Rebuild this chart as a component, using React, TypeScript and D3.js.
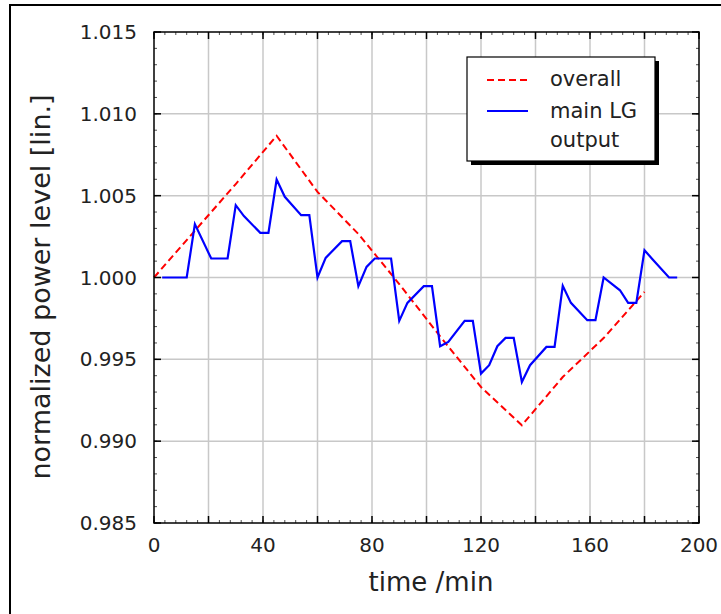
import React from 'react'
import * as d3 from 'd3'

// overall power level, sampled every 15 min
const overallTime = [0, 15, 30, 45, 60, 75, 90, 105, 120, 135, 150, 165, 180]
const overallLevel = [1.0, 1.00286, 1.00571, 1.00866, 1.00523, 1.00266, 0.9996, 0.9964, 0.99331, 0.99097, 0.99392, 0.9963, 0.99912]

// main LG output
const lgTime = [3, 12, 15, 21, 27, 30, 33, 39, 42, 45, 48, 54, 57, 60, 63, 69, 72, 75, 78, 81, 87, 90, 93, 99, 102,
  105, 108, 114, 117, 120, 123, 126, 129, 132, 135, 138, 144, 147, 150, 153, 159, 162, 165, 171, 174, 177, 180, 183, 189, 192]
const lgLevel = [1.0, 1.0, 1.00326, 1.00116, 1.00116, 1.00442, 1.00375, 1.00273, 1.00273, 1.00599, 1.00493, 1.00381, 1.00381,
  1.0, 1.0012, 1.00222, 1.00222, 0.99947, 1.00065, 1.00116, 1.00116, 0.99735, 0.99845, 0.99947, 0.99947,
  0.9958, 0.99606, 0.99735, 0.99735, 0.99413, 0.99464, 0.9958, 0.99631, 0.99631, 0.99362, 0.99464, 0.99576, 0.99576,
  0.99949, 0.99845, 0.99739, 0.99739, 1.0, 0.99922, 0.99845, 0.99845, 1.00167, 1.0011, 1.0, 1.0]

const xTickLabels = [0, 40, 80, 120, 160, 200]
const yTickLabels = [0.985, 0.99, 0.995, 1.0, 1.005, 1.01, 1.015]

const W = 721
const H = 614
const margin = {top: 32, right: 22, bottom: 91, left: 154}
const font = '"DejaVu Sans", sans-serif'

export default function App() {
  const x = d3.scaleLinear().domain([0, 200]).range([margin.left, W - margin.right])
  const y = d3.scaleLinear().domain([0.985, 1.015]).range([H - margin.bottom, margin.top])
  const [x0, x1] = x.range()
  const [y0, y1] = y.range()

  const line = d3.line<[number, number]>().x(d => x(d[0])).y(d => y(d[1]))
  const overall = line(overallTime.map((t, i) => [t, overallLevel[i]]))
  const lg = line(lgTime.map((t, i) => [t, lgLevel[i]]))

  const xGrid = d3.range(20, 200, 20)
  const xMinor = d3.range(0, 201, 4)
  const yMinor = d3.range(0, 31).map(i => 0.985 + i * 0.001)

  return (
    <svg width={W} height={H} style={{position: 'absolute', left: 0, top: 0, background: '#fff'}}
      fontFamily={font}>
      {/* outer frame */}
      <path d={`M10,${H + 5} V5 H${W + 5}`} fill="none" stroke="#000" strokeWidth={2} />

      {/* grid */}
      {xGrid.map(t => (
        <line key={'gx' + t} x1={x(t)} x2={x(t)} y1={y0} y2={y1} stroke="#c8c8c8" strokeWidth={1.5} />
      ))}
      {yTickLabels.slice(1, -1).map(v => (
        <line key={'gy' + v} x1={x0} x2={x1} y1={y(v)} y2={y(v)} stroke="#c8c8c8" strokeWidth={1.5} />
      ))}

      {/* data */}
      <path d={overall ?? ''} fill="none" stroke="#ff0000" strokeWidth={2} strokeDasharray="7,4" />
      <path d={lg ?? ''} fill="none" stroke="#0000ff" strokeWidth={2.2} />

      {/* minor ticks */}
      {xMinor.map(t => (
        <g key={'mx' + t} stroke="#000" strokeWidth={0.7}>
          <line x1={x(t)} x2={x(t)} y1={y0} y2={y0 - 3} />
          <line x1={x(t)} x2={x(t)} y1={y1} y2={y1 + 3} />
        </g>
      ))}
      {yMinor.map(v => (
        <g key={'my' + v.toFixed(3)} stroke="#000" strokeWidth={0.7}>
          <line x1={x0} x2={x0 + 3} y1={y(v)} y2={y(v)} />
          <line x1={x1} x2={x1 - 3} y1={y(v)} y2={y(v)} />
        </g>
      ))}
      {/* major ticks */}
      {d3.range(0, 201, 20).map(t => (
        <g key={'tx' + t} stroke="#000" strokeWidth={1.5}>
          <line x1={x(t)} x2={x(t)} y1={y0} y2={y0 - 7} />
          <line x1={x(t)} x2={x(t)} y1={y1} y2={y1 + 7} />
        </g>
      ))}
      {yTickLabels.map(v => (
        <g key={'ty' + v} stroke="#000" strokeWidth={1.5}>
          <line x1={x0} x2={x0 + 7} y1={y(v)} y2={y(v)} />
          <line x1={x1} x2={x1 - 7} y1={y(v)} y2={y(v)} />
        </g>
      ))}

      {/* plot frame */}
      <rect x={x0} y={y1} width={x1 - x0} height={y0 - y1} fill="none" stroke="#000" strokeWidth={1.5} />

      {/* tick labels */}
      {xTickLabels.map(t => (
        <text key={'lx' + t} x={x(t)} y={y0 + 29} textAnchor="middle" fontSize={20} fill="#222">{t}</text>
      ))}
      {yTickLabels.map(v => (
        <text key={'ly' + v} x={137} y={y(v)} dy="0.35em" textAnchor="end" fontSize={20} fill="#222">
          {d3.format('.3f')(v)}
        </text>
      ))}

      {/* axis titles */}
      <text x={431} y={591} textAnchor="middle" fontSize={26} fill="#222">time /min</text>
      <text transform="translate(50,287) rotate(-90)" textAnchor="middle" fontSize={27} fill="#222">
        normalized power level [lin.]
      </text>

      {/* legend */}
      <g>
        <rect x={471} y={61} width={188} height={104} fill="#000" />
        <rect x={467} y={57} width={188} height={104} fill="#fff" stroke="#000" strokeWidth={1.2} />
        <line x1={487} x2={528} y1={80} y2={80} stroke="#ff0000" strokeWidth={2} strokeDasharray="7,4" />
        <line x1={487} x2={528} y1={111} y2={111} stroke="#0000ff" strokeWidth={2.2} />
        <text x={550} y={86} fontSize={21} fill="#222">overall</text>
        <text x={550} y={118} fontSize={21} fill="#222">main LG</text>
        <text x={550} y={147} fontSize={21} fill="#222">output</text>
      </g>
    </svg>
  )
}
